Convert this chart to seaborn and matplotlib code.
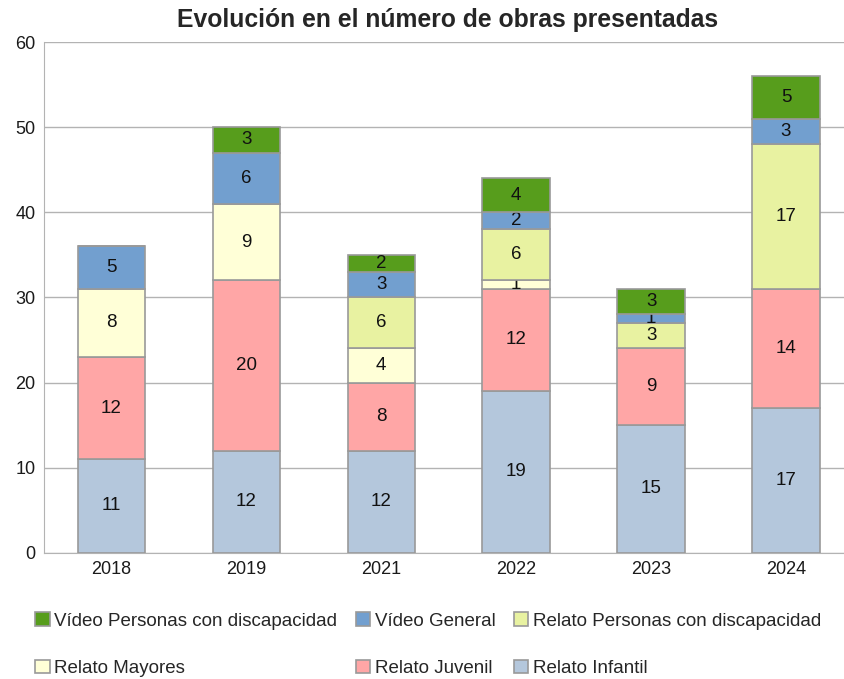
import numpy as np
import pandas as pd
import matplotlib
matplotlib.use('Agg')
import matplotlib.pyplot as plt
import seaborn as sns

years = ['2018', '2019', '2021', '2022', '2023', '2024']
relato_infantil = [11, 12, 12, 19, 15, 17]
relato_juvenil = [12, 20, 8, 12, 9, 14]
relato_mayores = [8, 9, 4, 1, 0, 0]
relato_pcd = [0, 0, 6, 6, 3, 17]
video_general = [5, 6, 3, 2, 1, 3]
video_pcd = [0, 3, 2, 4, 3, 5]

series = [
    ('Relato Infantil', relato_infantil, '#b4c7dc'),
    ('Relato Juvenil', relato_juvenil, '#ffa6a6'),
    ('Relato Mayores', relato_mayores, '#ffffd7'),
    ('Relato Personas con discapacidad', relato_pcd, '#e8f2a1'),
    ('Vídeo General', video_general, '#729fcf'),
    ('Vídeo Personas con discapacidad', video_pcd, '#579d1c'),
]

sns.set_style('white')
plt.rcParams['font.family'] = ['Liberation Sans', 'DejaVu Sans']

fig = plt.figure(figsize=(8.45, 6.79), dpi=100)
ax = fig.add_axes([0.052, 0.186, 0.958, 0.752])

bottom = np.zeros(len(years))
handles = {}
for name, vals, col in series:
    vals = np.array(vals, dtype=float)
    sns.barplot(x=years, y=vals, bottom=bottom, color=col, width=0.5, saturation=1,
                edgecolor='#999999', linewidth=1.2, ax=ax, zorder=3)
    cont = ax.containers[-1]
    handles[name] = cont
    labels = [f'{int(v)}' if v > 0 else '' for v in vals]
    ax.bar_label(cont, labels=labels, label_type='center', fontsize=13.5, color='#111111')
    bottom += vals

ax.set_ylim(0, 60)
ax.set_xlim(-0.5, 5.5)
ax.set_yticks(range(0, 61, 10))
ax.yaxis.grid(True, color='#b3b3b3', linewidth=1, zorder=0)
ax.set_axisbelow(True)
for s in ['top', 'right']:
    ax.spines[s].set_visible(False)
ax.spines['left'].set_color('#b3b3b3')
ax.spines['bottom'].set_color('#b3b3b3')
ax.tick_params(axis='both', labelsize=13, length=0, pad=6, colors='#1a1a1a')
ax.set_xlabel('')
ax.set_ylabel('')
fig.text(0.53, 0.97, 'Evolución en el número de obras presentadas', fontsize=17.8,
         fontweight='bold', ha='center', va='center')

order = ['Vídeo Personas con discapacidad', 'Relato Mayores', 'Vídeo General',
         'Relato Juvenil', 'Relato Personas con discapacidad', 'Relato Infantil']
leg = fig.legend([handles[n] for n in order], order, ncol=3, loc='lower left',
                 bbox_to_anchor=(0.022, -0.022), frameon=False, fontsize=13.5,
                 handlelength=0.75, handleheight=0.75, handletextpad=0.25,
                 labelspacing=1.6, columnspacing=1.0)

fig.savefig('out.png', dpi=100)
